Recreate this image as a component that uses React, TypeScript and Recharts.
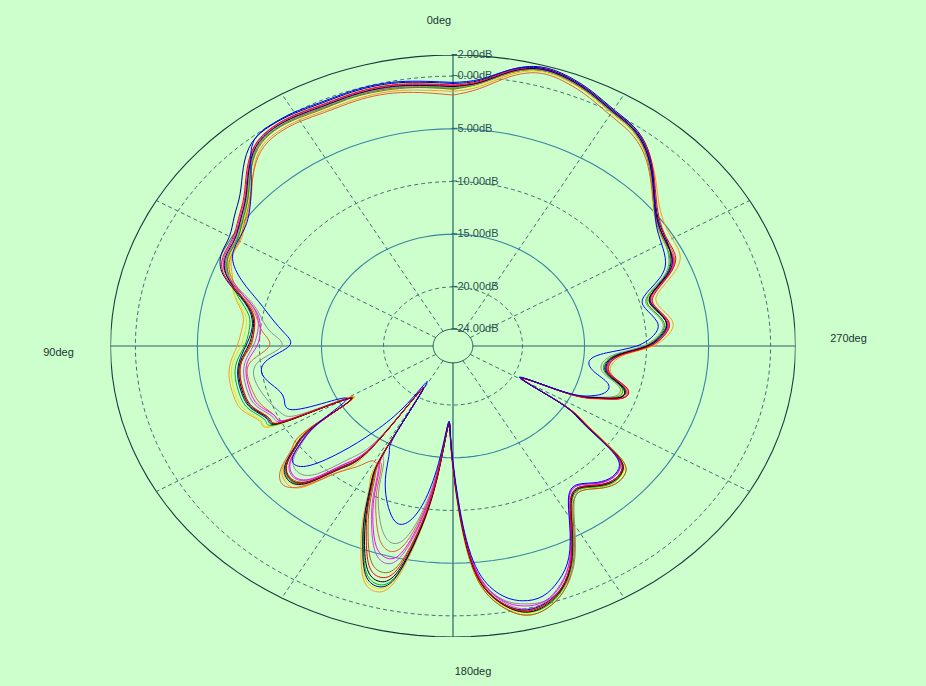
import React from 'react';
import { ScatterChart, Scatter, XAxis, YAxis, ReferenceLine, ReferenceDot } from 'recharts';

// angle in degrees, counter-clockwise from the top (0deg up, 90deg left)
const ANGLES = [
  0, 5, 10, 15, 20, 25, 30, 35, 40,
  45, 50, 55, 60, 65, 70,
  75, 80, 85, 90, 95, 100, 105, 110, 115, 118,
  121,
  124, 127, 130, 134, 138, 142, 146, 149, 151,
  153, 156, 159, 162, 165, 168, 171, 174, 177,
  179, 182, 185, 189, 193, 197, 201, 205, 209, 213, 217, 221, 225, 229, 232,
  235, 238, 241, 244, 247,
  250, 254, 258, 263, 267, 270, 274, 278, 283, 287, 291, 295,
  300, 305, 310, 315, 320, 325, 330, 335, 340, 345, 350, 355, 360,
];

// gain in dB at each angle, one array per trace
const ORANGE = [
  -1.45, -1.25, -1.0, -0.9, -0.95, -1.0, -0.85, -0.85, -1.35,
  -2.8, -4.3, -5.2, -5.8, -5.9, -6.7,
  -7.4, -8.4, -8.5, -8.2, -7.6, -7.3, -7.3, -7.6, -8.5, -10.0,
  -16.3,
  -11.5, -9.4, -7.7, -6.9, -7.6, -10.3, -13.8, -21.0, -13.8,
  -10.8, -7.8, -4.9, -2.3, -1.5, -2.6, -7.0, -12.5, -18.0,
  -16.0, -9.2, -3.4, -0.6, 0.6, 0.4, -0.7, -2.6, -5.4, -7.8, -8.4, -7.7, -7.1, -7.2, -8.6,
  -12.2, -15.1, -19.2, -15.4, -12.9,
  -11.4, -11.2, -12.5, -12.6, -11.5, -9.5, -8.1, -7.8, -8.6, -8.3, -6.6, -5.4,
  -5.2, -4.9, -4.0, -2.6, -1.3, -0.4, 0.1, 0.7, 1.2, 1.4, 0.5, -0.9, -1.45,
];
const YELLOW = [
  -1.2, -1.0, -0.75, -0.65, -0.7, -0.75, -0.6, -0.6, -1.1,
  -2.6, -4.1, -5.0, -5.6, -5.7, -6.5,
  -7.4, -8.6, -8.8, -8.5, -7.8, -7.5, -7.5, -7.8, -8.6, -10.0,
  -16.2,
  -12.1, -9.5, -7.8, -7.1, -8.0, -10.7, -14.2, -21.0, -14.3,
  -11.0, -8.0, -5.2, -2.6, -1.8, -2.9, -7.2, -12.6, -18.0,
  -16.1, -9.5, -3.7, -0.8, 0.4, 0.2, -0.9, -2.9, -5.7, -8.0, -8.6, -7.9, -7.3, -7.4, -8.8,
  -12.4, -15.2, -19.2, -15.5, -13.1,
  -11.6, -11.6, -13.0, -13.2, -12.1, -10.1, -8.8, -8.5, -9.3, -9.0, -7.3, -6.2,
  -6.0, -5.6, -4.6, -3.1, -1.6, -0.6, -0.1, 0.6, 1.2, 1.4, 0.6, -0.7, -1.2,
];
const BROWN = [
  -1.25, -1.0, -0.8, -0.7, -0.7, -0.8, -0.65, -0.6, -1.15,
  -2.5, -4.0, -4.9, -5.5, -5.6, -6.4,
  -8.1, -9.3, -9.5, -9.3, -8.5, -8.2, -8.2, -8.5, -9.3, -10.6,
  -16.0,
  -12.4, -9.8, -8.1, -7.5, -8.4, -11.1, -14.6, -21.0, -14.9,
  -11.8, -9.1, -6.5, -4.2, -3.4, -4.3, -8.0, -13.0, -18.1,
  -16.0, -9.3, -3.5, -0.6, 0.6, 0.4, -0.7, -2.7, -5.5, -7.8, -8.4, -7.7, -7.1, -7.2, -8.6,
  -12.3, -15.2, -19.3, -15.4, -12.9,
  -11.2, -11.2, -12.7, -12.9, -11.8, -9.8, -8.5, -8.2, -9.0, -8.8, -7.1, -6.0,
  -5.9, -5.5, -4.5, -3.0, -1.5, -0.5, 0.0, 0.7, 1.3, 1.5, 0.7, -0.6, -1.25,
];
const GREEN = [
  -1.15, -0.95, -0.7, -0.6, -0.65, -0.7, -0.55, -0.55, -1.05,
  -2.5, -4.0, -4.9, -5.5, -5.6, -6.4,
  -7.7, -8.9, -9.1, -8.8, -8.1, -7.8, -7.8, -8.1, -8.9, -10.2,
  -16.0,
  -12.3, -9.7, -8.0, -7.3, -8.2, -10.9, -14.4, -21.0, -14.6,
  -11.15, -8.25, -5.45, -3.0, -2.2, -3.2, -7.35, -12.7, -18.0,
  -16.2, -9.6, -3.8, -0.9, 0.3, 0.2, -0.9, -2.9, -5.7, -8.0, -8.6, -7.9, -7.3, -7.5, -8.9,
  -12.5, -15.3, -19.3, -15.5, -13.0,
  -11.5, -11.5, -13.0, -13.2, -12.1, -10.1, -8.8, -8.5, -9.3, -9.1, -7.4, -6.3,
  -5.9, -5.5, -4.5, -3.0, -1.5, -0.5, 0.0, 0.7, 1.3, 1.5, 0.7, -0.6, -1.15,
];
const GRAY = [
  -1.1, -0.9, -0.65, -0.55, -0.6, -0.65, -0.5, -0.5, -1.0,
  -2.4, -3.9, -4.8, -5.4, -5.5, -6.4,
  -8.6, -9.9, -10.9, -11.8, -10.0, -9.3, -9.5, -9.9, -10.4, -12.0,
  -16.0,
  -12.8, -10.4, -8.8, -8.3, -9.3, -12.0, -15.5, -21.0, -15.2,
  -13.3, -11.0, -8.9, -7.2, -6.3, -6.9, -9.6, -13.9, -18.2,
  -16.3, -10.0, -4.3, -1.4, -0.5, -0.3, -1.0, -2.6, -5.3, -7.7, -8.6, -8.2, -7.7, -7.8, -9.1,
  -12.6, -15.4, -19.3, -15.6, -13.2,
  -11.7, -11.7, -13.2, -13.4, -12.3, -10.3, -8.9, -8.6, -9.4, -9.2, -7.5, -6.4,
  -5.9, -5.5, -4.5, -3.0, -1.5, -0.5, 0.0, 0.7, 1.3, 1.5, 0.7, -0.6, -1.1,
];
const ORANGERED = [
  -1.8, -1.5, -1.2, -1.05, -1.1, -1.15, -1.0, -1.0, -1.5,
  -2.8, -4.2, -5.1, -5.7, -5.8, -6.6,
  -8.3, -9.5, -10.2, -10.8, -9.3, -8.8, -8.9, -9.2, -9.8, -11.2,
  -16.2,
  -11.6, -9.3, -7.5, -6.6, -7.8, -10.3, -11.8, -12.9, -12.9,
  -12.9, -10.5, -8.3, -6.4, -5.5, -6.2, -9.2, -13.6, -18.2,
  -16.2, -9.6, -3.8, -0.9, 0.2, 0.0, -1.0, -3.0, -5.8, -8.1, -8.7, -8.0, -7.4, -7.5, -8.9,
  -12.4, -15.2, -19.2, -15.3, -12.8,
  -11.1, -11.1, -12.6, -12.8, -11.7, -9.7, -8.4, -8.1, -8.9, -8.7, -7.0, -5.9,
  -5.7, -5.4, -4.5, -3.1, -1.7, -0.8, -0.3, 0.4, 1.0, 1.2, 0.3, -1.1, -1.8,
];
const VIOLET = [
  -0.95, -0.8, -0.6, -0.5, -0.5, -0.6, -0.45, -0.4, -0.95,
  -2.3, -3.8, -4.7, -5.3, -5.5, -6.3,
  -8.4, -9.6, -9.8, -9.5, -8.8, -8.5, -8.5, -8.8, -9.6, -10.9,
  -16.0,
  -12.6, -10.1, -8.4, -7.7, -8.6, -11.3, -14.8, -21.0, -15.0,
  -12.3, -9.7, -7.3, -5.2, -4.3, -5.1, -8.5, -13.3, -18.1,
  -16.2, -9.8, -4.1, -1.2, 0.0, -0.2, -1.3, -3.3, -6.1, -8.4, -9.0, -8.3, -7.7, -7.8, -9.2,
  -12.6, -15.3, -19.3, -15.5, -13.1,
  -11.3, -11.3, -12.8, -13.0, -11.9, -9.9, -8.6, -8.3, -9.1, -8.9, -7.2, -6.1,
  -5.8, -5.4, -4.4, -2.9, -1.4, -0.4, 0.1, 0.8, 1.4, 1.6, 0.8, -0.5, -0.95,
];
const MAGENTA = [
  -0.9, -0.7, -0.45, -0.35, -0.4, -0.45, -0.3, -0.3, -0.8,
  -2.2, -3.7, -4.6, -5.2, -5.3, -6.2,
  -8.4, -9.7, -10.0, -9.8, -9.0, -8.7, -8.7, -9.0, -9.8, -11.0,
  -16.0,
  -12.7, -10.2, -8.5, -7.8, -8.7, -11.4, -14.9, -21.0, -15.0,
  -12.5, -10.0, -7.6, -5.6, -4.8, -5.5, -8.8, -13.4, -18.1,
  -16.3, -9.9, -4.2, -1.3, -0.3, -0.3, -1.4, -3.3, -6.1, -8.4, -9.0, -8.3, -7.7, -7.8, -9.2,
  -12.6, -15.4, -19.3, -15.4, -12.9,
  -11.1, -11.0, -12.7, -12.9, -11.8, -9.8, -8.5, -8.2, -9.0, -8.8, -7.1, -6.0,
  -5.8, -5.4, -4.4, -2.9, -1.4, -0.4, 0.1, 0.8, 1.4, 1.6, 0.8, -0.5, -0.9,
];
const NAVY = [
  -0.7, -0.5, -0.25, -0.15, -0.2, -0.25, -0.1, -0.05, -0.4,
  -1.7, -3.2, -4.1, -4.8, -5.0, -5.9,
  -7.9, -9.1, -9.3, -8.9, -8.3, -8.0, -8.0, -8.3, -9.1, -10.4,
  -16.0,
  -12.2, -9.6, -7.9, -7.2, -8.1, -10.8, -14.3, -21.0, -14.6,
  -11.1, -8.1, -5.3, -2.8, -2.0, -3.05, -7.3, -12.6, -18.0,
  -16.3, -9.7, -3.9, -1.0, 0.1, -0.1, -1.1, -3.1, -5.9, -8.2, -8.8, -8.1, -7.5, -7.6, -9.0,
  -12.6, -15.4, -19.4, -15.6, -13.1,
  -11.3, -11.4, -12.9, -13.1, -12.0, -10.0, -8.7, -8.3, -9.0, -8.9, -7.3, -6.2,
  -5.7, -5.3, -4.3, -2.8, -1.2, -0.2, 0.3, 1.0, 1.6, 1.8, 1.0, -0.3, -0.7,
];
const BLACK = [
  -1.0, -0.8, -0.55, -0.45, -0.5, -0.55, -0.4, -0.4, -0.9,
  -2.3, -3.8, -4.7, -5.3, -5.4, -6.2,
  -8.0, -9.2, -9.4, -9.1, -8.4, -8.1, -8.1, -8.4, -9.2, -10.5,
  -16.0,
  -12.4, -9.8, -8.1, -7.4, -8.3, -11.0, -14.5, -21.0, -14.8,
  -11.3, -8.5, -5.7, -3.3, -2.5, -3.5, -7.5, -12.8, -18.0,
  -16.2, -9.6, -3.8, -0.9, 0.3, 0.1, -1.0, -3.0, -5.8, -8.1, -8.7, -8.0, -7.4, -7.5, -8.9,
  -12.5, -15.3, -19.3, -15.5, -13.0,
  -11.3, -11.3, -12.8, -13.0, -11.9, -9.9, -8.6, -8.3, -9.1, -8.9, -7.2, -6.1,
  -5.8, -5.4, -4.4, -2.9, -1.4, -0.4, 0.1, 0.8, 1.4, 1.6, 0.8, -0.5, -1.0,
];
const RED = [
  -0.85, -0.65, -0.4, -0.3, -0.35, -0.4, -0.25, -0.25, -0.75,
  -2.1, -3.6, -4.5, -5.1, -5.2, -6.0,
  -8.1, -9.3, -9.5, -9.2, -8.5, -8.2, -8.2, -8.5, -9.3, -10.6,
  -16.1,
  -12.4, -9.8, -8.1, -7.4, -8.3, -11.0, -14.5, -21.0, -14.8,
  -11.5, -8.7, -6.1, -3.7, -2.9, -3.9, -7.8, -12.9, -18.1,
  -16.2, -9.7, -3.9, -1.0, 0.2, 0.0, -1.1, -3.1, -5.9, -8.2, -8.8, -8.1, -7.5, -7.6, -9.0,
  -12.4, -15.2, -19.3, -15.4, -12.8,
  -11.1, -11.0, -12.6, -12.8, -11.7, -9.7, -8.4, -8.1, -8.9, -8.6, -7.0, -5.8,
  -5.6, -5.2, -4.2, -2.7, -1.2, -0.3, 0.2, 0.9, 1.5, 1.7, 0.9, -0.4, -0.85,
];
const BLUE = [
  -0.6, -0.4, -0.15, -0.05, -0.1, -0.15, 0.0, 0.0, -0.5,
  -2.6, -4.3, -5.3, -5.6, -6.0, -7.5,
  -9.4, -10.8, -12.0, -12.4, -10.6, -10.0, -10.7, -11.1, -11.3, -14.5,
  -15.5,
  -12.5, -10.2, -8.7, -9.2, -12.0, -15.3, -19.0, -21.5, -16.2,
  -14.3, -12.3, -10.5, -9.1, -8.2, -8.6, -10.6, -14.4, -18.3,
  -16.5, -10.2, -4.6, -1.8, -0.8, -0.8, -1.8, -3.5, -6.2, -8.5, -9.1, -8.4, -7.8, -7.9, -9.3,
  -12.8, -15.5, -19.5, -15.8, -13.5,
  -12.6, -12.6, -14.0, -14.5, -13.2, -10.8, -9.3, -9.0, -9.7, -9.5, -7.8, -6.7,
  -6.2, -5.6, -4.4, -2.8, -1.3, -0.3, 0.2, 0.9, 1.5, 1.7, 1.0, -0.2, -0.6,
];

const TRACES = [
  { name: 'orange', color: '#ff9a1a', values: ORANGE },
  { name: 'yellow', color: '#e6e600', values: YELLOW },
  { name: 'brown', color: '#a0601a', values: BROWN },
  { name: 'green', color: '#00b000', values: GREEN },
  { name: 'gray', color: '#8f8f8f', values: GRAY },
  { name: 'orangered', color: '#e0602c', values: ORANGERED },
  { name: 'violet', color: '#c050d0', values: VIOLET },
  { name: 'magenta', color: '#ff00ff', values: MAGENTA },
  { name: 'navy', color: '#000090', values: NAVY },
  { name: 'black', color: '#000000', values: BLACK },
  { name: 'red', color: '#ff0000', values: RED },
  { name: 'blue', color: '#0000ff', values: BLUE },
];

// radial axis
const DB_MIN = -25.6;
const DB_MAX = 2;
const RING_TICKS = [2, 0, -5, -10, -15, -20, -24];
const RING_LABELS = ['2.00dB', '0.00dB', '5.00dB', '10.00dB', '15.00dB', '20.00dB', '24.00dB'];
const SPOKES = [30, 60, 120, 150, 210, 240, 300, 330];
const AXIS_ANGLES = [0, 90, 180, 270];
const DEG_LABELS = ['0deg', '90deg', '180deg', '270deg'];

const R = DB_MAX - DB_MIN;
const FONT = '"Liberation Sans", Arial, sans-serif';

function toXY(deg: number, db: number) {
  const r = Math.max(db, DB_MIN) - DB_MIN;
  const a = (deg * Math.PI) / 180;
  return { x: -r * Math.sin(a), y: r * Math.cos(a) };
}

const ringStyle = (tick: number) => {
  if (tick === 2) return { stroke: '#163e3e', strokeWidth: 1.1 };
  if (tick === -24) return { stroke: '#245656', strokeWidth: 1 };
  if (tick === -5 || tick === -15) return { stroke: '#3a84a2', strokeWidth: 1.1 };
  return { stroke: '#3d7474', strokeWidth: 1, strokeDasharray: '4 3' };
};

const ringPoints = (tick: number) =>
  Array.from({ length: 121 }, (_, i) => toXY(i * 3, tick));

// label offsets from the end of each axis line, in pixels
const DEG_OFFSETS = [
  { dx: -14, dy: -35 },
  { dx: -52, dy: 6 },
  { dx: 20, dy: 34 },
  { dx: 53, dy: -8 },
];

const noDot = () => <g />;

export default function App() {
  return (
    <div
      style={{
        position: 'absolute',
        left: 0,
        top: 0,
        width: 926,
        height: 686,
        background: '#ccffcc',
      }}
    >
      <ScatterChart
        width={926}
        height={686}
        margin={{ top: 55, right: 130.5, bottom: 49, left: 110.5 }}
      >
        <XAxis type="number" dataKey="x" domain={[-R, R]} allowDataOverflow hide />
        <YAxis type="number" dataKey="y" domain={[-R, R]} allowDataOverflow hide />

        {/* rings */}
        {RING_TICKS.map((t) => (
          <Scatter
            key={`ring-${t}`}
            data={ringPoints(t)}
            fill="none"
            line={{ fill: 'none', ...ringStyle(t) }}
            shape={noDot}
            legendType="none"
            isAnimationActive={false}
          />
        ))}

        {/* dashed spokes */}
        {SPOKES.map((a) => (
          <ReferenceLine
            key={`spoke-${a}`}
            segment={[toXY(a, -24), toXY(a, DB_MAX)]}
            stroke="#3d7474"
            strokeDasharray="4 3"
            ifOverflow="visible"
          />
        ))}

        {/* solid axes */}
        {AXIS_ANGLES.map((a) => (
          <ReferenceLine
            key={`axis-${a}`}
            segment={[toXY(a, -24), toXY(a, DB_MAX)]}
            stroke="#2b6464"
            strokeWidth={1.2}
            ifOverflow="visible"
          />
        ))}

        {TRACES.map((s) => (
          <Scatter
            key={s.name}
            name={s.name}
            data={ANGLES.map((a, i) => toXY(a, s.values[i]))}
            fill={s.color}
            line={{ stroke: s.color, strokeWidth: 1, fill: 'none' }}
            lineJointType="natural"
            shape={noDot}
            legendType="none"
            isAnimationActive={false}
          />
        ))}

        {/* dB labels on the vertical axis */}
        {RING_TICKS.map((t, i) => {
          const p = toXY(0, t);
          return (
            <ReferenceDot
              key={`lbl-${t}`}
              x={p.x}
              y={p.y}
              r={1}
              ifOverflow="visible"
              shape={(props: any) => (
                <g>
                  <line
                    x1={props.cx - 1.5}
                    x2={props.cx + 4}
                    y1={props.cy - 0.5}
                    y2={props.cy - 0.5}
                    stroke="#2b6464"
                  />
                  <text
                    x={props.cx + 4.5}
                    y={props.cy - 1}
                    dominantBaseline="central"
                    fontSize={11}
                    fontFamily={FONT}
                    fill="#2c5050"
                  >
                    {RING_LABELS[i]}
                  </text>
                </g>
              )}
            />
          );
        })}

        {/* angle labels */}
        {AXIS_ANGLES.map((a, i) => {
          const p = toXY(a, DB_MAX);
          const o = DEG_OFFSETS[i];
          return (
            <ReferenceDot
              key={`deg-${a}`}
              x={p.x}
              y={p.y}
              r={1}
              ifOverflow="visible"
              shape={(props: any) => (
                <text
                  x={props.cx + o.dx}
                  y={props.cy + o.dy}
                  textAnchor="middle"
                  dominantBaseline="central"
                  fontSize={11}
                  fontFamily={FONT}
                  fill="#1e3434"
                >
                  {DEG_LABELS[i]}
                </text>
              )}
            />
          );
        })}
      </ScatterChart>
    </div>
  );
}
